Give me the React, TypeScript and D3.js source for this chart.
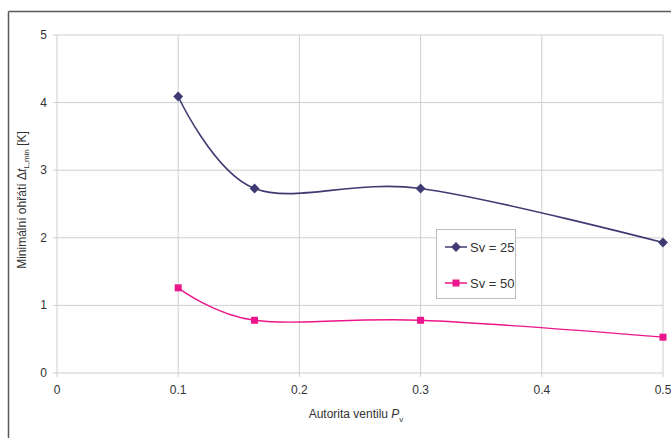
import React from "react";
import * as d3 from "d3";

const xValues = [0.1, 0.163, 0.3, 0.5];
const sv25 = [4.09, 2.73, 2.73, 1.93];
const sv50 = [1.26, 0.78, 0.78, 0.53];
const xTicks = [0, 0.1, 0.2, 0.3, 0.4, 0.5];
const yTicks = [0, 1, 2, 3, 4, 5];
const seriesNames = ["Sv = 25", "Sv = 50"];

const W = 671, H = 438;
const FONT = "'Liberation Sans Narrow', 'Liberation Sans', Arial, sans-serif";

export default function App() {
  const x = d3.scaleLinear().domain([0, 0.5]).range([57, 663]);
  const y = d3.scaleLinear().domain([0, 5]).range([373, 35]);
  const line = d3
    .line<number>()
    .x((_, i) => x(xValues[i]))
    .y((d) => y(d))
    .curve(d3.curveCardinal.tension(0));
  const c1 = "#3f3b72";
  const c2 = "#ec168c";
  const grid = "#cfcfcf";
  return (
    <svg width={W} height={H} style={{ position: "absolute", left: 0, top: 0 }}>
      <rect x={0} y={0} width={W} height={H} fill="#fff" />
      <line x1={8.5} y1={11.5} x2={W} y2={11.5} stroke="#5a5a5a" strokeWidth={1.5} />
      <line x1={8.5} y1={11.5} x2={8.5} y2={H} stroke="#5a5a5a" strokeWidth={1.5} />
      {yTicks.map((t) => (
        <g key={"y" + t}>
          <line x1={53} x2={663} y1={y(t)} y2={y(t)} stroke={grid} strokeWidth={1} />
          <text x={47} y={y(t) + 4} textAnchor="end" fontSize={12} fontFamily={FONT} fill="#333">
            {t}
          </text>
        </g>
      ))}
      {xTicks.map((t) => (
        <g key={"x" + t}>
          <line x1={x(t)} x2={x(t)} y1={35} y2={377} stroke={grid} strokeWidth={1} />
          <text x={x(t)} y={394} textAnchor="middle" fontSize={12} fontFamily={FONT} fill="#333">
            {t}
          </text>
        </g>
      ))}
      <path d={line(sv25) || ""} fill="none" stroke={c1} strokeWidth={1.6} />
      <path d={line(sv50) || ""} fill="none" stroke={c2} strokeWidth={1.4} />
      {sv25.map((v, i) => (
        <rect
          key={"a" + i}
          x={-3.5}
          y={-3.5}
          width={7}
          height={7}
          fill={c1}
          transform={`translate(${x(xValues[i])},${y(v)}) rotate(45)`}
        />
      ))}
      {sv50.map((v, i) => (
        <rect key={"b" + i} x={x(xValues[i]) - 3.5} y={y(v) - 3.5} width={7} height={7} fill={c2} />
      ))}
      <text
        transform="translate(26,200) rotate(-90)"
        textAnchor="middle"
        fontSize={12}
        fontFamily={FONT}
        fill="#333"
      >
        Minimální ohřátí Δ<tspan fontStyle="italic">t</tspan>
        <tspan fontSize={8} dy={3}>L,min</tspan>
        <tspan dy={-3}> [K]</tspan>
      </text>
      <text x={356} y={418} textAnchor="middle" fontSize={12} fontFamily={FONT} fill="#333">
        Autorita ventilu <tspan fontStyle="italic">P</tspan>
        <tspan fontSize={8} dy={4}>v</tspan>
      </text>
      <rect x={436.5} y={229.5} width={79} height={69} fill="#fff" stroke="#bdbdbd" strokeWidth={1} />
      {seriesNames.map((n, i) => {
        const ly = 247 + i * 36;
        const c = i === 0 ? c1 : c2;
        return (
          <g key={n}>
            <line x1={445} x2={467} y1={ly} y2={ly} stroke={c} strokeWidth={1.5} />
            {i === 0 ? (
              <rect x={-3.5} y={-3.5} width={7} height={7} fill={c} transform={`translate(456,${ly}) rotate(45)`} />
            ) : (
              <rect x={452.5} y={ly - 3.5} width={7} height={7} fill={c} />
            )}
            <text x={470} y={ly + 5} fontSize={13} fontFamily={FONT} fill="#333">
              {n}
            </text>
          </g>
        );
      })}
    </svg>
  );
}
